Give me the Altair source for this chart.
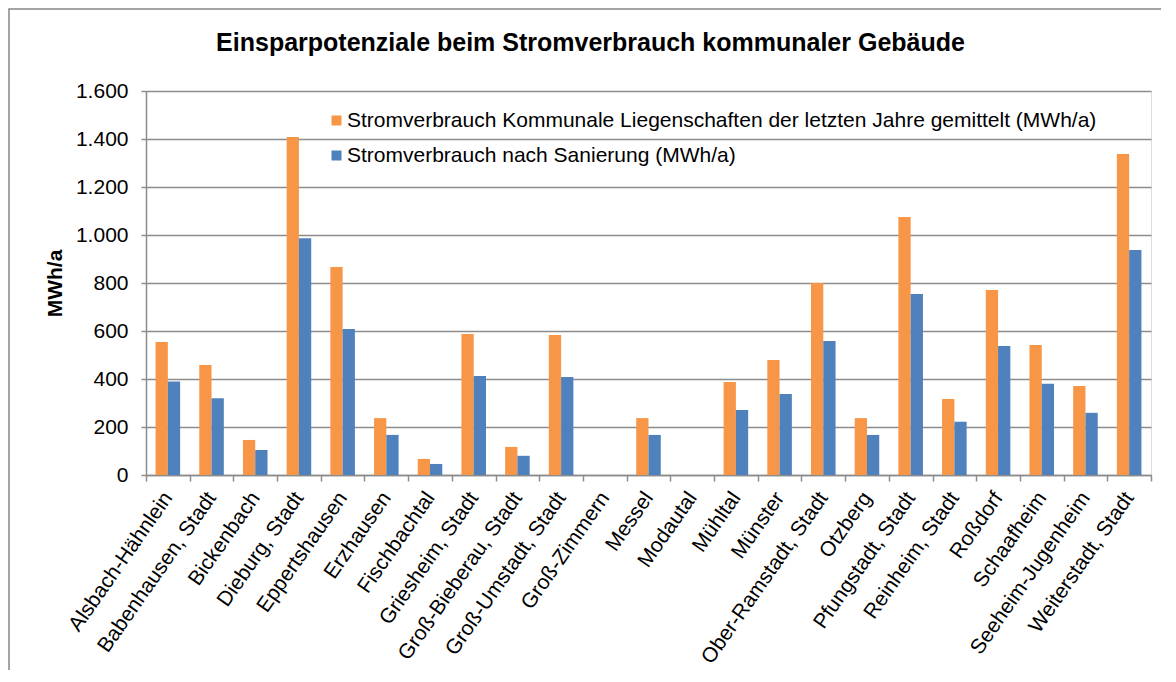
import altair as alt
import pandas as pd

gemeinden = [
    "Alsbach-Hähnlein", "Babenhausen, Stadt", "Bickenbach", "Dieburg, Stadt",
    "Eppertshausen", "Erzhausen", "Fischbachtal", "Griesheim, Stadt",
    "Groß-Bieberau, Stadt", "Groß-Umstadt, Stadt", "Groß-Zimmern", "Messel",
    "Modautal", "Mühltal", "Münster", "Ober-Ramstadt, Stadt", "Otzberg",
    "Pfungstadt, Stadt", "Reinheim, Stadt", "Roßdorf", "Schaafheim",
    "Seeheim-Jugenheim", "Weiterstadt, Stadt",
]
verbrauch_ist = [554, 458, 146, 1408, 867, 237, 67, 588, 117, 583, 0, 237,
                 0, 388, 479, 800, 237, 1075, 317, 771, 542, 371, 1338]
verbrauch_saniert = [390, 320, 104, 986, 608, 167, 46, 413, 80, 408, 0, 167,
                     0, 271, 337, 558, 167, 754, 222, 538, 380, 259, 937]

serie_ist = "Stromverbrauch Kommunale Liegenschaften der letzten Jahre gemittelt (MWh/a)"
serie_saniert = "Stromverbrauch nach Sanierung (MWh/a)"
serien = [serie_ist, serie_saniert]
farben = ["#F79646", "#4F81BD"]
y_ticks = [0, 200, 400, 600, 800, 1000, 1200, 1400, 1600]

rows = []
for g, a, b in zip(gemeinden, verbrauch_ist, verbrauch_saniert):
    rows.append({"Gemeinde": g, "Serie": serie_ist, "Wert": a})
    rows.append({"Gemeinde": g, "Serie": serie_saniert, "Wert": b})
df = pd.DataFrame(rows)

FONT = "Liberation Sans"
GRID = "#8C8C8C"
W, H = 1005, 384
FS = 21

bars = alt.Chart(df).mark_bar().encode(
    x=alt.X("Gemeinde:N", sort=gemeinden,
            scale=alt.Scale(paddingInner=0, paddingOuter=0),
            axis=alt.Axis(title=None, labelAngle=-55, labelAlign="right",
                          labelBaseline="middle", labelFontSize=FS,
                          labelFont=FONT, labelColor="#000000", labelPadding=13,
                          tickBand="extent", tickSize=6, tickColor=GRID,
                          domainColor=GRID, domainWidth=1.5, tickWidth=1.5,
                          grid=False, labelOverlap=False, labelLimit=400)),
    xOffset=alt.XOffset("Serie:N", sort=serien,
                        scale=alt.Scale(paddingOuter=0.78, paddingInner=0)),
    y=alt.Y("Wert:Q",
            scale=alt.Scale(domain=[0, 1600], nice=False),
            axis=alt.Axis(title="MWh/a", values=y_ticks,
                          labelExpr="replace(format(datum.value, ','), ',', '.')",
                          labelFontSize=FS, labelFont=FONT, labelColor="#000000",
                          labelPadding=13, tickSize=5, tickColor=GRID,
                          tickWidth=1.5, domainColor=GRID, domainWidth=1.5,
                          gridColor=GRID, gridWidth=1.5,
                          titleFont=FONT, titleFontSize=21, titleFontWeight="bold",
                          titleColor="#000000", titleAngle=-90,
                          titleAlign="center", titleBaseline="middle",
                          titleX=-91, titleY=192)),
    color=alt.Color("Serie:N", sort=serien,
                    scale=alt.Scale(domain=serien, range=farben),
                    legend=alt.Legend(title=None, orient="none",
                                      legendX=180, legendY=19,
                                      symbolType="square", symbolSize=100,
                                      symbolStrokeWidth=0,
                                      labelFont=FONT, labelFontSize=FS,
                                      labelColor="#000000", labelLimit=900,
                                      rowPadding=13, padding=0, symbolOffset=0,
                                      labelOffset=0)),
)

frame = alt.Chart(alt.Data(values=[{}])).mark_rect(
    fill=None, stroke="#868686", strokeWidth=1.5
).encode(
    x=alt.value(-137), x2=alt.value(1300),
    y=alt.value(-82), y2=alt.value(900),
)

chart = alt.layer(frame, bars).properties(
    width=W, height=H,
    title=alt.TitleParams(
        "Einsparpotenziale beim Stromverbrauch kommunaler Gebäude",
        font=FONT, fontSize=25, fontWeight="bold", color="#000000",
        anchor="middle", frame="group", dx=-58, offset=0, dy=68,
        baseline="alphabetic",
    ),
    padding={"left": 138, "top": 83, "right": 10, "bottom": 195},
    autosize=alt.AutoSizeParams(type="none"),
).configure_view(stroke=None).configure(background="#FFFFFF")

chart.save("out.html", embed_options={"renderer": "svg", "actions": False})
